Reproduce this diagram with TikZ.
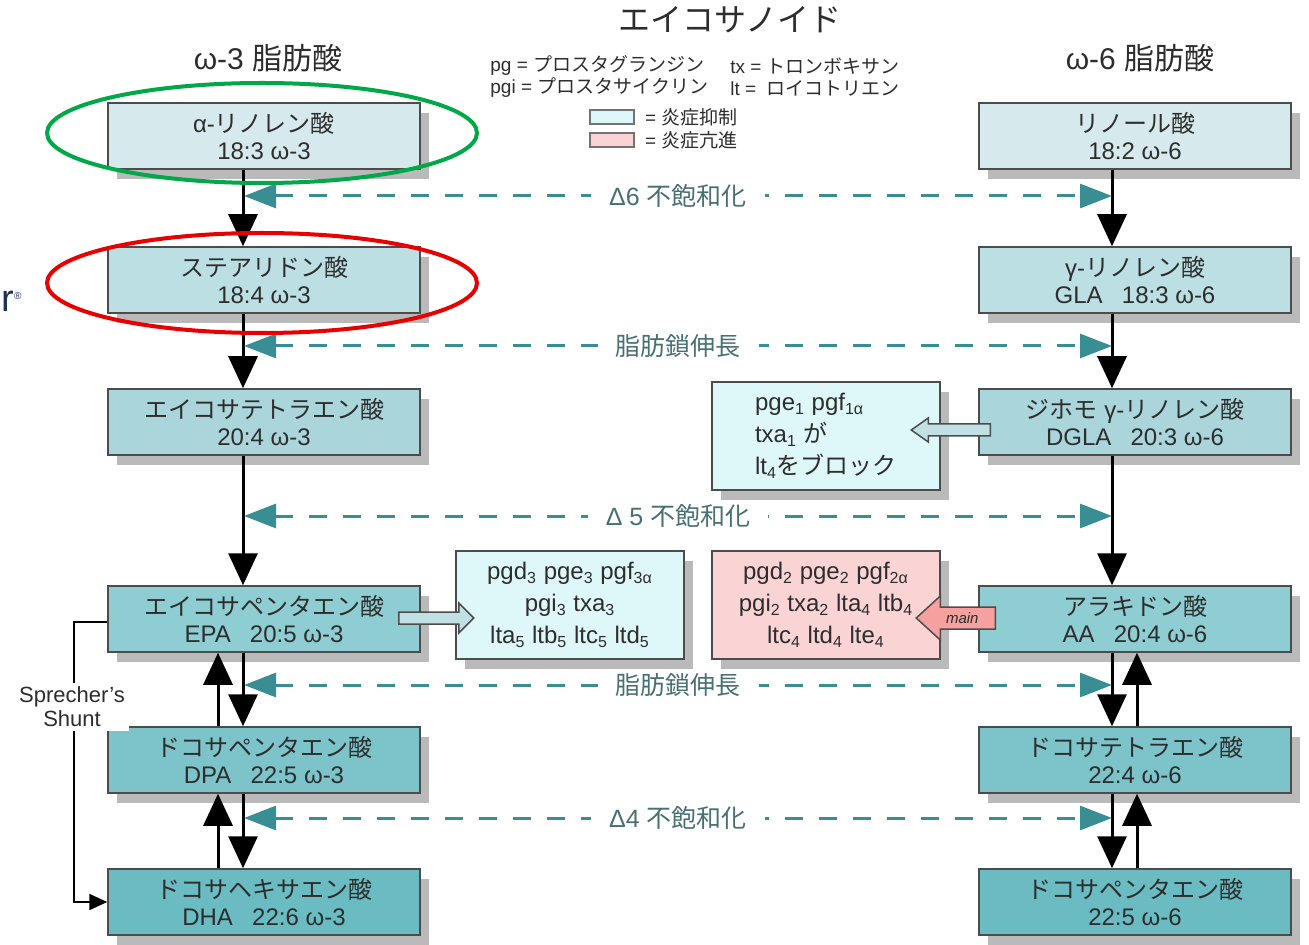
\documentclass[tikz,border=0pt]{standalone}
\usepackage{fontspec}
\setmainfont{Liberation Sans}
\newfontfamily\jp{Noto Sans CJK JP}
\usepackage{xcolor}
\usetikzlibrary{arrows.meta}
\usetikzlibrary{positioning}
\usetikzlibrary{calc}
\usetikzlibrary{shadows}
\definecolor{rowA}{RGB}{214,234,237}
\definecolor{rowB}{RGB}{188,223,227}
\definecolor{rowC}{RGB}{170,214,219}
\definecolor{rowD}{RGB}{142,205,210}
\definecolor{rowE}{RGB}{124,196,202}
\definecolor{rowF}{RGB}{106,188,194}
\definecolor{calm}{RGB}{222,248,250}
\definecolor{hot}{RGB}{250,212,212}
\definecolor{hotstub}{RGB}{246,160,160}
\definecolor{stubfill}{RGB}{192,224,228}
\definecolor{pathteal}{RGB}{56,142,146}
\definecolor{labteal}{RGB}{72,112,114}
\definecolor{inktext}{RGB}{45,45,45}
\definecolor{ringgreen}{RGB}{0,168,72}
\definecolor{ringred}{RGB}{232,0,0}
\definecolor{logonavy}{RGB}{28,48,88}
\newcommand{\idx}[1]{\textsubscript{#1}}

\begin{document}
\begin{tikzpicture}[x=0.5pt, y=-0.5pt,
    acid/.style={draw=black!70, line width=0.75pt, text=inktext, align=center,
      minimum width=156pt, minimum height=33pt, inner sep=0pt,
      font=\fontsize{12}{13.5}\selectfont,
      drop shadow={shadow xshift=4.5pt, shadow yshift=-5pt, fill=black!27, opacity=1}},
    prodbox/.style={acid, font=\fontsize{12}{16}\selectfont, minimum width=114pt, minimum height=54pt},
    flow/.style={line width=1.5pt, -{Triangle[width=14.5pt,length=16pt]}},
    desat/.style={pathteal, line width=1.5pt, dash pattern=on 9pt off 8pt,
      {Triangle[width=12pt,length=16pt]}-{Triangle[width=12pt,length=16pt]}},
    steplabel/.style={fill=white, text=labteal, inner xsep=9pt, inner ysep=1pt,
      font=\fontsize{12.5}{14}\selectfont},
    fatstub/.style={draw=black!70, line width=0.75pt, fill=stubfill, line join=miter},
    legend/.style={font=\fontsize{9.5}{11}\selectfont, text=inktext, inner sep=1pt},
    keybox/.style={draw=black!55, line width=0.6pt, minimum width=22pt, minimum height=7pt, inner sep=0pt},
    ring/.style={line width=2pt}]
\useasboundingbox (0,0) rectangle (1309,945);

% title, headers and legend
\node[font=\fontsize{16}{18}\selectfont, text=inktext] (title) at (730,20) {\jp エイコサノイド};
\node[font=\fontsize{15}{17}\selectfont, text=inktext] (hdrthree) at (268,58) {ω-3 {\jp 脂肪酸}};
\node[font=\fontsize{15}{17}\selectfont, text=inktext] (hdrsix) at (1140,58) {ω-6 {\jp 脂肪酸}};
\node[legend, anchor=west] (kpg) at (488,66) {pg = {\jp プロスタグランジン}};
\node[legend, anchor=west] (kpgi) at (488,88) {pgi = {\jp プロスタサイクリン}};
\node[legend, anchor=west] (ktx) at (728,66) {tx = {\jp トロンボキサン}};
\node[legend, anchor=west] (klt) at (728,88) {lt = \ {\jp ロイコトリエン}};
\node[keybox, fill=calm] (kcalm) at (612,117) {};
\node[legend, right=4pt of kcalm] (kcalmtxt) {= {\jp 炎症抑制}};
\node[keybox, fill=hot] (khot) at (612,140) {};
\node[legend, right=4pt of khot] (khottxt) {= {\jp 炎症亢進}};

% omega-3 column
\node[acid, fill=rowA] (ala) at (264,136) {α-{\jp リノレン酸}\\18:3 ω-3};
\node[acid, fill=rowB] (sda) at (264,280) {{\jp ステアリドン酸}\\18:4 ω-3};
\node[acid, fill=rowC] (eta) at (264,422) {{\jp エイコサテトラエン酸}\\20:4 ω-3};
\node[acid, fill=rowD] (epa) at (264,619) {{\jp エイコサペンタエン酸}\\EPA\hspace{0.8em}20:5 ω-3};
\node[acid, fill=rowE] (dpa) at (264,760) {{\jp ドコサペンタエン酸}\\DPA\hspace{0.8em}22:5 ω-3};
\node[acid, fill=rowF] (dha) at (264,902) {{\jp ドコサヘキサエン酸}\\DHA\hspace{0.8em}22:6 ω-3};

% omega-6 column
\node[acid, fill=rowA] (lna) at (1135,136) {{\jp リノール酸}\\18:2 ω-6};
\node[acid, fill=rowB] (gla) at (1135,280) {γ-{\jp リノレン酸}\\GLA\hspace{0.8em}18:3 ω-6};
\node[acid, fill=rowC] (dgla) at (1135,422) {{\jp ジホモ} γ-{\jp リノレン酸}\\DGLA\hspace{0.8em}20:3 ω-6};
\node[acid, fill=rowD] (ara) at (1135,619) {{\jp アラキドン酸}\\AA\hspace{0.8em}20:4 ω-6};
\node[acid, fill=rowE] (adra) at (1135,760) {{\jp ドコサテトラエン酸}\\22:4 ω-6};
\node[acid, fill=rowF] (dpasix) at (1135,902) {{\jp ドコサペンタエン酸}\\22:5 ω-6};

% eicosanoid products
\node[prodbox, fill=calm, align=left] (calmone) at (826,436) {pge\idx{1} pgf\idx{1α}\\txa\idx{1} {\jp が}\\lt\idx{4}{\jp をブロック}};
\node[prodbox, fill=calm] (calmthree) at (570,605) {pgd\idx{3} pge\idx{3} pgf\idx{3α}\\pgi\idx{3} txa\idx{3}\\lta\idx{5} ltb\idx{5} ltc\idx{5} ltd\idx{5}};
\node[prodbox, fill=hot] (hottwo) at (826,605) {pgd\idx{2} pge\idx{2} pgf\idx{2α}\\pgi\idx{2} txa\idx{2} lta\idx{4} ltb\idx{4}\\ltc\idx{4} ltd\idx{4} lte\idx{4}};

% conversions, omega-3
\draw[flow] ($(ala.south)+(-21,0)$) -- ($(sda.north)+(-21,0)$);
\draw[flow] ($(sda.south)+(-21,0)$) -- ($(eta.north)+(-21,0)$);
\draw[flow] ($(eta.south)+(-21,0)$) -- ($(epa.north)+(-21,0)$);
\draw[flow] ($(epa.south)+(-21,0)$) -- ($(dpa.north)+(-21,0)$);
\draw[flow] ($(dpa.north)+(-46,0)$) -- ($(epa.south)+(-46,0)$);
\draw[flow] ($(dpa.south)+(-21,0)$) -- ($(dha.north)+(-21,0)$);
\draw[flow] ($(dha.north)+(-46,0)$) -- ($(dpa.south)+(-46,0)$);

% conversions, omega-6
\draw[flow] ($(lna.south)+(-23,0)$) -- ($(gla.north)+(-23,0)$);
\draw[flow] ($(gla.south)+(-23,0)$) -- ($(dgla.north)+(-23,0)$);
\draw[flow] ($(dgla.south)+(-23,0)$) -- ($(ara.north)+(-23,0)$);
\draw[flow] ($(ara.south)+(-23,0)$) -- ($(adra.north)+(-23,0)$);
\draw[flow] ($(adra.north)+(2,0)$) -- ($(ara.south)+(2,0)$);
\draw[flow] ($(adra.south)+(-23,0)$) -- ($(dpasix.north)+(-23,0)$);
\draw[flow] ($(dpasix.north)+(2,0)$) -- ($(adra.south)+(2,0)$);

% shared enzyme steps
\coordinate (dsixL) at (244,196);  \coordinate (dsixR) at (1112,196);
\coordinate (elonL) at (244,346);  \coordinate (elonR) at (1112,346);
\coordinate (dfiveL) at (244,516); \coordinate (dfiveR) at (1112,516);
\coordinate (eltwoL) at (244,685); \coordinate (eltwoR) at (1112,685);
\coordinate (dfourL) at (244,818); \coordinate (dfourR) at (1112,818);
\draw[desat] (dsixL) -- (dsixR) node[midway, steplabel] (lsix) {Δ6 {\jp 不飽和化}};
\draw[desat] (elonL) -- (elonR) node[midway, steplabel] (lelon) {\jp 脂肪鎖伸長};
\draw[desat] (dfiveL) -- (dfiveR) node[midway, steplabel] (lfive) {Δ 5 {\jp 不飽和化}};
\draw[desat] (eltwoL) -- (eltwoR) node[midway, steplabel] (leltwo) {\jp 脂肪鎖伸長};
\draw[desat] (dfourL) -- (dfourR) node[midway, steplabel] (lfour) {Δ4 {\jp 不飽和化}};

% block arrows to the products
\coordinate (sone) at ($(dgla.west)+(12,8)$);
\draw[fatstub] (sone) ++(0,-6) -- ++(-62,0) -- ++(0,-6) -- ++(-17,12) -- ++(17,12) -- ++(0,-6) -- ++(62,0) -- cycle;
\coordinate (stwo) at ($(epa.east)+(-22,-1)$);
\draw[fatstub] (stwo) ++(0,-6) -- ++(60,0) -- ++(0,-9) -- ++(15,15) -- ++(-15,15) -- ++(0,-9) -- ++(-60,0) -- cycle;
\coordinate (sthree) at ($(ara.west)+(17,-1)$);
\draw[fatstub, fill=hotstub] (sthree) ++(0,-11) -- ++(-55,0) -- ++(0,-11) -- ++(-24,22) -- ++(24,22) -- ++(0,-11) -- ++(55,0) -- cycle;
\node[font=\fontsize{7.5}{8}\selectfont\itshape, text=inktext, inner sep=0pt] (mainlab) at ($(sthree)+(-33,0)$) {main};

% Sprecher's shunt
\draw[line width=1pt, -{Triangle[width=8pt,length=9pt]}] ($(epa.west)+(0,3)$) -- ++(-33,0) |- (dha.west);
\node[font=\fontsize{11}{12}\selectfont, fill=white, text=inktext, inner sep=2pt, align=center] (shunt) at (72,707) {Sprecher's\\Shunt};

% highlight rings
\draw[ring, ringgreen] (262,133) ellipse [x radius=215, y radius=50];
\draw[ring, ringred] (262,283) ellipse [x radius=215, y radius=50];
\node[anchor=base west, inner sep=0pt, text=logonavy, font=\fontsize{19}{19}\selectfont] (logo) at (1,312) {r\textsuperscript{\tiny ®}};
\end{tikzpicture}
\end{document}
